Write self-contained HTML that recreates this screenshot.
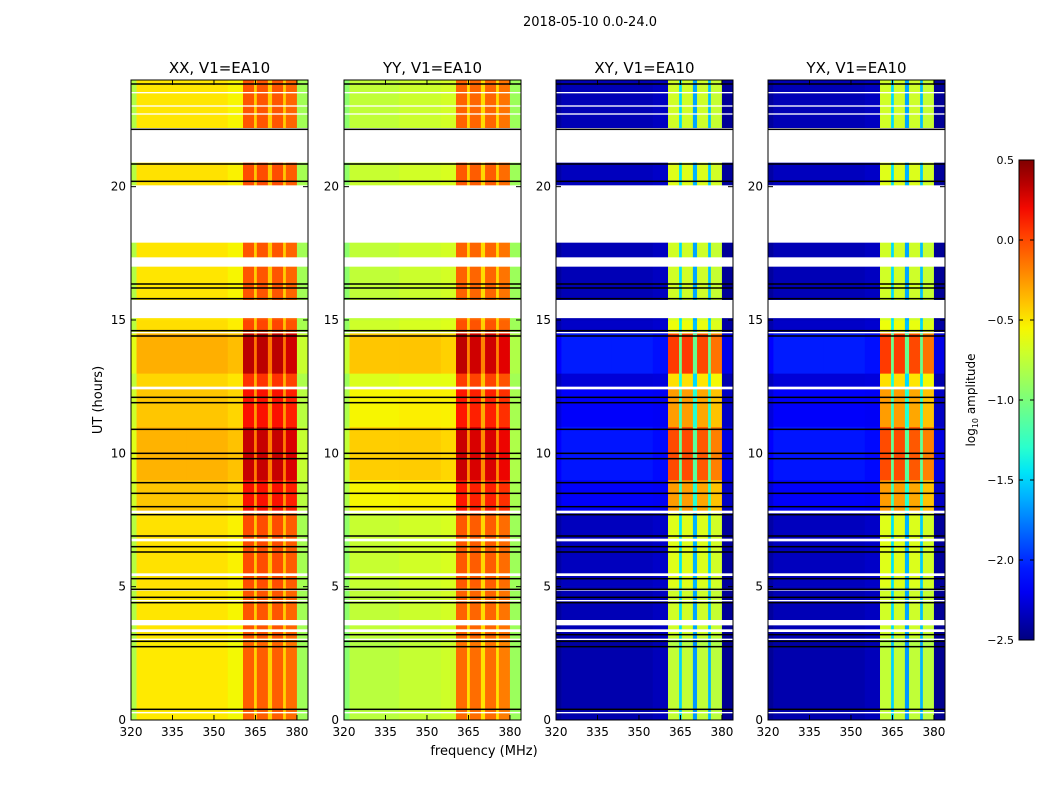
<!DOCTYPE html>
<html><head><meta charset="utf-8"><style>
body{margin:0;background:#fff;font-family:"Liberation Sans",sans-serif}
svg text{font-family:"DejaVu Sans","Liberation Sans",sans-serif}
</style></head><body>
<svg id="fig" width="1050" height="800" xmlns="http://www.w3.org/2000/svg">
<rect width="1050" height="800" fill="#fff"/>
<text x="590" y="26" font-size="13" text-anchor="middle">2018-05-10 0.0-24.0</text>
<text transform="translate(102,400) rotate(-90)" font-size="13" text-anchor="middle">UT (hours)</text>
<text x="484" y="755" font-size="13" text-anchor="middle">frequency (MHz)</text>
<defs><linearGradient id="jetg" x1="0" y1="1" x2="0" y2="0"></linearGradient></defs>
<g id="panels"></g>
<g id="cbar"></g>
</svg>
<script>
// ---- data ----
const panelTitles = ["XX, V1=EA10","YY, V1=EA10","XY, V1=EA10","YX, V1=EA10"];
const freqEdges = [320,322,340,355,360.5,364.5,365.5,369.5,371,375,376,380,384];
const lowXX  = [-0.85,-0.55,-0.55,-0.6,-0.15,-0.5,-0.15,-0.5,-0.15,-0.5,-0.2,-0.9];
const highXX = [-0.6,-0.3,-0.3,-0.35,0.4,-0.1,0.4,-0.1,0.4,-0.1,0.35,-0.7];
const lowYY  = [-1.0,-0.85,-0.8,-0.75,-0.2,-0.55,-0.2,-0.55,-0.2,-0.55,-0.25,-0.9];
const highYY = [-0.7,-0.35,-0.35,-0.4,0.4,-0.15,0.35,-0.15,0.35,-0.15,0.3,-0.8];
const lowXY  = [-2.5,-2.45,-2.45,-2.4,-0.9,-1.6,-0.9,-1.8,-0.9,-1.7,-0.9,-2.5];
const highXY = [-2.1,-2.0,-2.0,-2.05,0.15,-1.0,0.15,-1.0,0.1,-1.0,-0.05,-2.2];
const lowYX  = [-2.5,-2.45,-2.45,-2.4,-0.9,-1.6,-0.9,-1.8,-0.9,-1.7,-0.9,-2.5];
const highYX = [-2.1,-2.0,-2.0,-2.05,0.15,-1.0,0.15,-1.0,0.1,-1.0,-0.05,-2.2];
const timeStarts = [0,2.7,3.1,5.0,7.8,9.0,11.0,12.5,13.0,14.5,15.0,20.0,22.2];
const timeEnds   = [2.7,3.1,5.0,7.8,9.0,11.0,12.5,13.0,14.5,15.0,20.0,22.2,24];
const timeAct    = [0.15,0.1,0.2,0.25,0.6,0.85,0.6,0.4,0.9,0.3,0.2,0.25,0.2];
const whiteStarts = [20.9,17.9,17.0,15.07,12.4,7.75,6.7,5.4,4.85,4.45,3.55,3.3,3.0,0.25,23.5,23.0,22.7,14.5];
const whiteEnds   = [22.2,20.05,17.35,15.75,12.5,7.85,6.8,5.5,4.9,4.5,3.75,3.4,3.05,0.3,23.55,23.05,22.75,14.55];
const blackLines = [23.85,22.15,20.85,20.2,16.35,16.2,15.8,14.6,14.4,12.1,11.9,10.9,10.0,9.8,8.9,8.5,8.0,7.7,6.9,6.5,6.3,5.3,4.9,4.6,4.4,3.2,2.95,2.75,0.4];
const xTicks = [320,335,350,365,380];
const yTicks = [0,5,10,15,20];
const cbTicks = [0.5,0.0,-0.5,-1.0,-1.5,-2.0,-2.5];
const cbLabels = ["0.5","0.0","\u22120.5","\u22121.0","\u22121.5","\u22122.0","\u22122.5"];
// ---- layout ----
const NS="http://www.w3.org/2000/svg";
const panelX=[131,344,556,768], PW=177, PT=80, PB=720;
const vmin=-2.5, vmax=0.5;
function jet(v){
  let t=Math.max(0,Math.min(1,(v-vmin)/(vmax-vmin)));
  function pw(pts){for(let i=1;i<pts.length;i++){if(t<=pts[i][0]){const a=pts[i-1],b=pts[i];return a[1]+(b[1]-a[1])*(t-a[0])/(b[0]-a[0]);}}return pts[pts.length-1][1];}
  const r=pw([[0,0],[0.35,0],[0.66,1],[0.89,1],[1,0.5]]);
  const g=pw([[0,0],[0.125,0],[0.375,1],[0.64,1],[0.91,0],[1,0]]);
  const b=pw([[0,0.5],[0.11,1],[0.34,1],[0.65,0],[1,0]]);
  return `rgb(${Math.round(r*255)},${Math.round(g*255)},${Math.round(b*255)})`;
}
function mk(tag,attrs,parent){const e=document.createElementNS(NS,tag);for(const k in attrs)e.setAttribute(k,attrs[k]);parent.appendChild(e);return e;}
const lows=[lowXX,lowYY,lowXY,lowYX], highs=[highXX,highYY,highXY,highYX];
const panels=document.getElementById('panels');
panelX.forEach((x0,p)=>{
  const g=mk('g',{},panels);
  
  
  const xs=f=>x0+(f-320)/64*PW;
  const ys=t=>PB-t/24*(PB-PT);
  timeStarts.forEach((t0,i)=>{
    for(let f=0;f<freqEdges.length-1;f++){
      const v=lows[p][f]+timeAct[i]*(highs[p][f]-lows[p][f]);
      const r=mk('rect',{x:xs(freqEdges[f]),y:ys(timeEnds[i]),width:xs(freqEdges[f+1])-xs(freqEdges[f])+0.3,height:ys(t0)-ys(timeEnds[i])+0.3,fill:jet(v)},g);
      
      
    }
  });
  whiteStarts.forEach((w,i)=>{
    const r=mk('rect',{x:x0,y:ys(whiteEnds[i]),width:PW,height:ys(w)-ys(whiteEnds[i]),fill:'#fff'},g);
    
    
  });
  blackLines.forEach(b=>{
    const r=mk('rect',{x:x0,y:ys(b)-0.75,width:PW,height:1.5,fill:'#000'},g);
    
    
  });
  mk('rect',{x:x0,y:PT,width:PW,height:PB-PT,fill:'none',stroke:'#000','stroke-width':1},g);
  const tt=mk('text',{x:x0+PW/2,y:PT-7,'font-size':15,'text-anchor':'middle'},g);
  tt.textContent=panelTitles[p];
  
  
  xTicks.forEach(f=>{
    mk('line',{x1:xs(f),x2:xs(f),y1:PB,y2:PB-5,stroke:'#000'},g);
    mk('line',{x1:xs(f),x2:xs(f),y1:PT,y2:PT+5,stroke:'#000'},g);
    const l=mk('text',{x:xs(f),y:PB+16,'font-size':12,'text-anchor':'middle'},g);
    l.textContent=f;
    
    
  });
  yTicks.forEach(t=>{
    mk('line',{x1:x0,x2:x0+5,y1:ys(t),y2:ys(t),stroke:'#000'},g);
    mk('line',{x1:x0+PW,x2:x0+PW-5,y1:ys(t),y2:ys(t),stroke:'#000'},g);
    const l=mk('text',{x:x0-5,y:ys(t)+4,'font-size':12,'text-anchor':'end'},g);
    l.textContent=t;
    
    
  });
});
// colorbar
const grad=document.getElementById('jetg');
for(let i=0;i<=20;i++){mk('stop',{offset:(i/20),'stop-color':jet(vmin+i/20*(vmax-vmin))},grad);}
const cb=document.getElementById('cbar');
const cbY=v=>640-(v-vmin)/(vmax-vmin)*480;
mk('rect',{x:1019,y:160,width:15,height:480,fill:'url(#jetg)',stroke:'#000'},cb);
cbTicks.forEach((v,i)=>{
  mk('line',{x1:1019,x2:1023,y1:cbY(v),y2:cbY(v),stroke:'#000'},cb);
  mk('line',{x1:1034,x2:1030,y1:cbY(v),y2:cbY(v),stroke:'#000'},cb);
  const l=mk('text',{x:1014,y:cbY(v)+4,'font-size':11,'text-anchor':'end'},cb);
  l.textContent=cbLabels[i];
  
  
});
const cl=mk('text',{transform:'translate(975,400) rotate(-90)','font-size':12,'text-anchor':'middle'},cb);
cl.innerHTML='log<tspan font-size="8" dy="3">10</tspan><tspan dy="-3"> amplitude</tspan>';


</script>
</body></html>
